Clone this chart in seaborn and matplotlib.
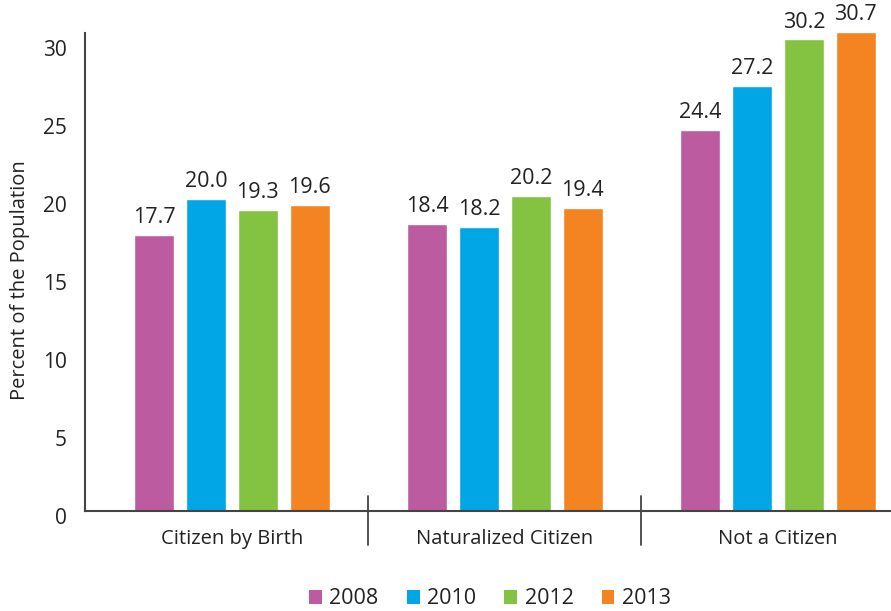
import matplotlib
matplotlib.use("Agg")
import matplotlib.pyplot as plt
import matplotlib.transforms as mtransforms
from matplotlib.patches import Patch
import seaborn as sns
import pandas as pd

categories = ["Citizen by Birth", "Naturalized Citizen", "Not a Citizen"]
years = ["2008", "2010", "2012", "2013"]
values_2008 = [17.7, 18.4, 24.4]
values_2010 = [20.0, 18.2, 27.2]
values_2012 = [19.3, 20.2, 30.2]
values_2013 = [19.6, 19.4, 30.7]
y_ticks = [0, 5, 10, 15, 20, 25, 30]
y_label = "Percent of the Population"

colors = ["#BD5BA1", "#00A6E6", "#84C341", "#F48422"]

series = [values_2008, values_2010, values_2012, values_2013]
rows = []
for yr, vals in zip(years, series):
    for cat, v in zip(categories, vals):
        rows.append({"category": cat, "year": yr, "value": v})
df = pd.DataFrame(rows)

sns.set_theme(style="white")
plt.rcParams["font.family"] = ["Open Sans", "DejaVu Sans"]

fig = plt.figure(figsize=(8.91, 6.11), dpi=100)
ax = fig.add_axes([85 / 891, 100 / 611, 806 / 891, 509 / 611])

sns.barplot(data=df, x="category", y="value", hue="year", order=categories,
            hue_order=years, palette=colors, width=0.76, gap=0.23,
            saturation=1, ax=ax, legend=False)

for cont in ax.containers:
    ax.bar_label(cont, fmt="%.1f", padding=5, fontsize=15.5, color="#222222")

ax.set_ylim(0, 32.6)
ax.set_xlim(-0.538, 2.414)
ax.set_yticks(y_ticks)
ax.set_yticklabels([str(t) for t in y_ticks])
ax.tick_params(axis="y", length=0, pad=13, labelsize=15, labelcolor="#222222")
ax.tick_params(axis="x", length=0, pad=13, labelsize=14.5, labelcolor="#222222")
off = mtransforms.ScaledTranslation(0, -5 / 100, fig.dpi_scale_trans)
for lab in ax.get_yticklabels():
    lab.set_transform(lab.get_transform() + off)

ax.set_xlabel("")
ax.set_ylabel(y_label, fontsize=14.5, color="#222222")
ax.yaxis.set_label_coords(-0.068, 0.454)

for s in ["top", "right"]:
    ax.spines[s].set_visible(False)
for s in ["left", "bottom"]:
    ax.spines[s].set_color("#444444")
    ax.spines[s].set_linewidth(1.5)
ax.spines["left"].set_bounds(0, 30.6)

for i in range(len(categories) - 1):
    ax.axvline(i + 0.5, ymin=-34 / 509, ymax=15 / 509, color="#444444",
               linewidth=1.3, clip_on=False)

handles = [Patch(facecolor=c, edgecolor="none") for c in colors]
fig.legend(handles, years, loc="center", bbox_to_anchor=(490 / 891, 1 - 599 / 611),
           ncol=4, frameon=False, fontsize=15.5, handlelength=0.6, handleheight=0.6,
           handletextpad=0.35, columnspacing=1.3, labelcolor="#222222")

fig.savefig("out.png", dpi=100)
